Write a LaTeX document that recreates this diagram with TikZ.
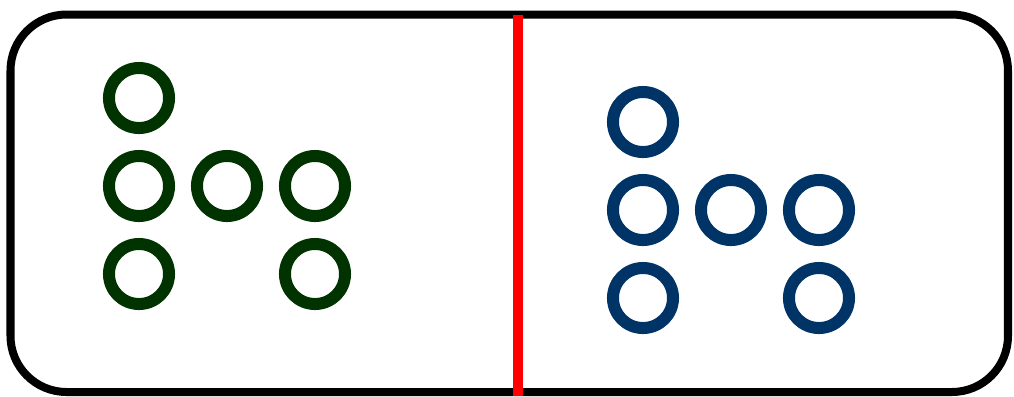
\documentclass[tikz,border=0pt]{standalone}
\usepackage{tikz}
\usetikzlibrary{positioning}
\usepackage{xcolor}
\definecolor{leftcol}{RGB}{0,51,0}
\definecolor{rightcol}{RGB}{0,51,102}
\definecolor{cutcol}{RGB}{255,0,0}
\tikzset{
  % outer frame
  frame/.style={draw=black, line width=0.08cm, rounded corners=0.56cm},
  % ring node
  ring/.style={circle, draw=#1, line width=0.12cm, minimum size=0.6cm, inner sep=0pt},
  ring/.default={black},
  % dividing line
  cutline/.style={draw=cutcol, line width=0.1cm},
}
\begin{document}
\begin{tikzpicture}[x=0.01cm, y=-0.01cm]
  \useasboundingbox (0,0) rectangle (1014,396);

  % frame
  \draw[frame] (10.5,14.5) rectangle (1008,392);

  % divider
  \coordinate (cuttop) at (518,14.5);
  \coordinate (cutbot) at (518,396);
  \draw[cutline] (cuttop) -- (cutbot);

  % left group
  \node[ring=leftcol] (L1) at (139,98) {};
  \node[ring=leftcol] (L2) at (139,186) {};
  \node[ring=leftcol] (L3) at (227,186) {};
  \node[ring=leftcol] (L4) at (315,186) {};
  \node[ring=leftcol] (L5) at (139,274) {};
  \node[ring=leftcol] (L6) at (315,274) {};

  % right group
  \node[ring=rightcol] (R1) at (643,122) {};
  \node[ring=rightcol] (R2) at (643,210) {};
  \node[ring=rightcol] (R3) at (731,210) {};
  \node[ring=rightcol] (R4) at (819,210) {};
  \node[ring=rightcol] (R5) at (643,298) {};
  \node[ring=rightcol] (R6) at (819,298) {};
\end{tikzpicture}
\end{document}
